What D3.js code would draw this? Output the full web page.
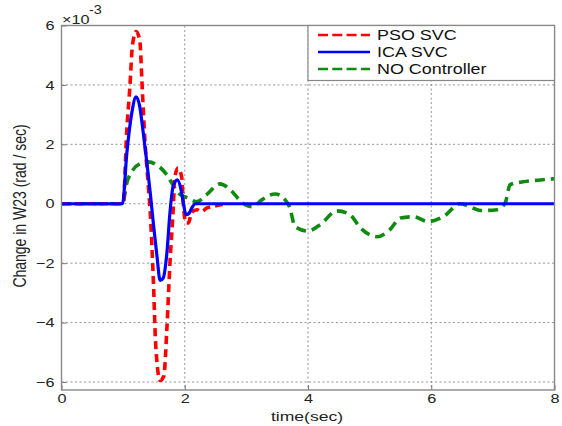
<!DOCTYPE html>
<html><head><meta charset="utf-8">
<script src="https://cdn.jsdelivr.net/npm/d3@7"></script>
<style>body{margin:0;background:#fff;} svg{display:block;font-family:"Liberation Sans",Arial,sans-serif;}</style>
</head><body>
<svg id="c" width="562" height="426"></svg>
<script>
const xTicks = [0, 2, 4, 6, 8];
const yTicks = [-6, -4, -2, 0, 2, 4, 6];
const seriesNames = ["PSO SVC", "ICA SVC", "NO Controller"];

const psoX = [0,1.0,1.06,1.11,1.15,1.21,1.27,1.31,1.35,1.41,1.44,1.49,1.53,1.6,1.66,1.71,1.76,1.81,1.84,1.89,1.95,1.98,2.02,2.06,2.11,2.2,2.27,2.36,2.45,2.55,2.65];
const psoY = [0,0,2.5,3.94,5.3,5.8,5.5,3.9,2.25,0.57,-0.3,-2.56,-4.8,-5.95,-5.8,-4.2,-2.0,-0.3,0.9,1.2,0.9,-0.1,-0.65,-0.65,-0.3,-0.2,-0.27,-0.14,-0.1,-0.05,-0.02];

const icaX = [0,0.99,1.06,1.14,1.21,1.27,1.32,1.38,1.44,1.49,1.55,1.6,1.65,1.71,1.76,1.81,1.88,1.94,1.98,2.02,2.07,2.12,2.17,2.3,8];
const icaY = [0,0,1.7,3.05,3.6,3.27,2.5,1.48,0.37,-0.65,-1.78,-2.58,-2.5,-1.66,-0.3,0.57,0.8,0.47,0,-0.37,-0.32,-0.12,0,0,0];

const noX = [0,0.99,1.06,1.16,1.3,1.41,1.55,1.71,1.79,1.89,2.04,2.2,2.35,2.57,2.75,2.9,2.98,3.1,3.25,3.47,3.62,3.7,3.79,4.0,4.2,4.47,4.68,4.85,5.12,5.33,5.5,5.71,5.95,6.2,6.47,6.63,6.8,7.07,7.2,7.28,7.49,7.77,8.0];
const noY = [0,0,0.7,1.14,1.37,1.41,1.3,0.97,0.7,0.37,0.2,0.07,0.3,0.67,0.45,0.1,-0.03,-0.1,0.13,0.33,0.15,-0.1,-0.77,-0.92,-0.7,-0.24,-0.37,-0.81,-1.11,-0.87,-0.48,-0.44,-0.6,-0.43,0,-0.1,-0.23,-0.2,0.03,0.64,0.74,0.8,0.84];

const svg = d3.select("#c");
const L = 61.5, R = 554.5, T = 25.5, B = 390;
const x = d3.scaleLinear().domain([0, 8]).range([L, R]);
const y = d3.scaleLinear().domain([-6.27, 6]).range([B, T]);

// horizontal stretch of text (reference is widened)
function stretch(sel, k) {
  sel.each(function () {
    const w = this.getComputedTextLength();
    d3.select(this).attr("textLength", w * k).attr("lengthAdjust", "spacingAndGlyphs");
  });
}

// grid
const grid = svg.append("g").attr("stroke", "#888").attr("stroke-width", 0.9).attr("stroke-dasharray", "2,2.5");
xTicks.forEach(t => grid.append("line").attr("x1", x(t)).attr("x2", x(t)).attr("y1", T).attr("y2", B));
yTicks.forEach(t => grid.append("line").attr("x1", L).attr("x2", R).attr("y1", y(t)).attr("y2", y(t)));

// axes with inward ticks
const ax = svg.append("g").attr("transform", `translate(0,${B})`)
  .call(d3.axisBottom(x).tickValues(xTicks).tickSizeInner(-5).tickSizeOuter(0).tickPadding(4));
const ay = svg.append("g").attr("transform", `translate(${L},0)`)
  .call(d3.axisLeft(y).tickValues(yTicks).tickSizeInner(-5).tickSizeOuter(0).tickPadding(7));
[ax, ay].forEach(g => {
  g.select(".domain").remove();
  g.selectAll(".tick line").attr("stroke", "#777");
  g.selectAll(".tick text").attr("font-size", 13).attr("fill", "#222").attr("font-family", "Liberation Sans, Arial, sans-serif");
  stretch(g.selectAll(".tick text"), 1.25);
});

// data lines
const mk = (xs, ys) => xs.map((v, i) => [v, ys[i]]);
const line = d3.line().x(d => x(d[0])).y(d => y(d[1])).curve(d3.curveMonotoneX);
const plot = svg.append("g");
plot.append("path").datum(mk(noX, noY)).attr("d", line).attr("fill", "none")
  .attr("stroke", "#108a10").attr("stroke-width", 3.6).attr("stroke-dasharray", "10,6");
plot.append("path").datum(mk(psoX, psoY)).attr("d", line).attr("fill", "none")
  .attr("stroke", "#ff0000").attr("stroke-width", 3.6).attr("stroke-dasharray", "8,5");
plot.append("path").datum(mk(icaX, icaY)).attr("d", line).attr("fill", "none")
  .attr("stroke", "#0000ff").attr("stroke-width", 3.2);

// box
svg.append("rect").attr("x", L).attr("y", T).attr("width", R - L).attr("height", B - T)
  .attr("fill", "none").attr("stroke", "#888").attr("stroke-width", 1.4);

// exponent
const e1 = svg.append("text").attr("x", 62).attr("y", 24).attr("font-size", 13).attr("fill", "#222").text("×10");
stretch(e1, 1.25);
const e2 = svg.append("text").attr("x", 89).attr("y", 14).attr("font-size", 12).attr("fill", "#222").text("-3");
stretch(e2, 1.2);

// labels
const xl = svg.append("text").attr("x", 307).attr("y", 421).attr("text-anchor", "middle")
  .attr("font-size", 13).attr("fill", "#222").text("time(sec)");
stretch(xl, 1.35);
svg.append("text").attr("transform", "translate(26,206) scale(1.25,1) rotate(-90)").attr("text-anchor", "middle")
  .attr("font-size", 14).attr("fill", "#222").text("Change in W23 (rad / sec)");

// legend
const lg = svg.append("g");
lg.append("rect").attr("x", 308).attr("y", 25.5).attr("width", 246.5).attr("height", 55)
  .attr("fill", "#fff").attr("stroke", "#888").attr("stroke-width", 1.2);
const lstyles = [
  {c: "#ff0000", d: "10,4.3", w: 2.6},
  {c: "#0000ff", d: null, w: 2.6},
  {c: "#108a10", d: "10,4.3", w: 2.6}
];
seriesNames.forEach((n, i) => {
  const yy = 35 + i * 17;
  const l = lg.append("line").attr("x1", 318).attr("x2", 370).attr("y1", yy).attr("y2", yy)
    .attr("stroke", lstyles[i].c).attr("stroke-width", lstyles[i].w);
  if (lstyles[i].d) l.attr("stroke-dasharray", lstyles[i].d);
  const t = lg.append("text").attr("x", 377).attr("y", yy + 5).attr("font-size", 14).attr("fill", "#111").text(n);
  stretch(t, 1.28);
});
</script>
</body></html>
